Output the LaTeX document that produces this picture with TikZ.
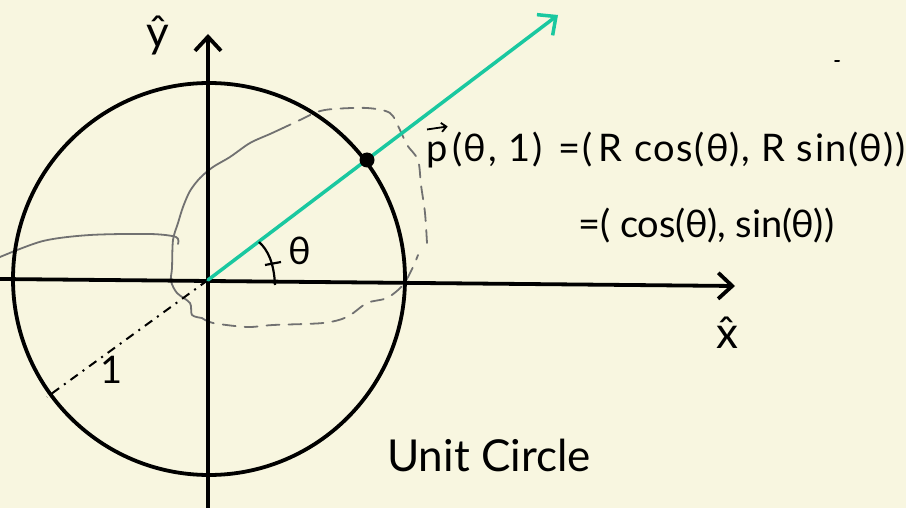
\documentclass[tikz,border=0pt]{standalone}
\usepackage{fontspec}
\setmainfont{Lato}
\usetikzlibrary{arrows.meta,calc}
\definecolor{bgc}{HTML}{F8F6E0}
\definecolor{rayc}{HTML}{1AC8A0}
\definecolor{lassoc}{HTML}{717171}
\begin{document}
\begin{tikzpicture}[x=1pt,y=-1pt,
  axis/.style={line width=3.8pt, black, line cap=round},
  barb/.style={-{Straight Barb[length=14pt,width=26pt]}},
  ray/.style={line width=3.5pt, rayc, line cap=round},
  lasso/.style={line width=1.8pt, lassoc, line cap=round, line join=round},
  lassodash/.style={lasso, dash pattern=on 13pt off 9pt},
  hand/.style={inner sep=0pt, font=\fontsize{38}{44}\selectfont},
  big/.style={inner sep=0pt, font=\fontsize{44}{50}\selectfont}]
\fill[bgc] (0,0) rectangle (906,508);
\useasboundingbox (0,0) rectangle (906,508);

% coordinates
\coordinate (O) at (208,280);
\coordinate (xl) at (0,279);
\coordinate (xr) at (735,286);
\coordinate (yb) at (208,508);
\coordinate (yt) at (208,34);
\coordinate (tip) at (558,15);
\coordinate (one) at (47,397);

% lasso selection outline
\draw[lasso] plot[smooth] coordinates {(0,257) (43,241) (90,235) (150,234) (176,237) (178,244)};
\draw[lasso] plot[smooth] coordinates {(283,128) (270,134) (250,143) (230,157) (213,167) (200,178) (190,191) (183,207) (178,223) (173,240) (172,268) (171,281) (177,293) (190,303) (192,315) (202,318)};
\draw[lassodash] plot[smooth] coordinates {(202,318) (213,323) (247,327) (273,325) (323,323) (347,317) (367,303) (387,298) (403,285) (413,267) (418,255)};
\draw[lassodash] plot[smooth] coordinates {(427,243) (425,213) (421,185) (418,160) (407,145) (400,130) (390,113) (367,108) (333,109) (317,112) (300,120) (283,128)};

% circle and axes
\draw[axis] (209,279) circle[radius=196];
\draw[axis,barb] (xl) -- (xr);
\draw[axis,barb] (yb) -- (yt);

% radius "1"
\draw[line width=2pt, dash pattern=on 9pt off 6pt on 2pt off 6pt] (O) -- (one);
\node[hand] (lab1) at (112,370) {1};

% ray
\draw[ray,barb] (O) -- (tip);
\node[circle, fill=black, inner sep=0pt, minimum size=15pt] (P) at (367,160) {};

% angle
\draw[line width=2.2pt] (275,285) .. controls (274,263) and (268,250) .. (259,242);
\draw[line width=2.2pt] (265,265) -- (281,262);
\node[hand] (th) at (300,251) {θ};

% axis labels
\node[big] (yhat) at (158,36) {ŷ};
\node[big] (xhat) at (727,333) {\^{x}};

% equations
\node[hand, anchor=base west] (pv) at (426,162) {p};
\draw[line width=1.8pt, -{Straight Barb[length=5pt,width=9pt]}] ($(pv.west)+(1,-26)$) -- ($(pv.east)+(0,-29)$);
\node[hand, anchor=base west] (eq1) at ($(pv.base east)+(5,0)$) {\addfontfeatures{LetterSpace=4.5}(θ,\kern12pt 1)\kern16pt=(\kern6pt R cos(θ), R sin(θ))};
\node[hand, anchor=base west] (eq2) at (578,238) {=( cos(θ), sin(θ))};

\node[big, anchor=base] (title) at (489,471) {Unit Circle};

% stray marks
\draw[line width=2pt, line cap=round] (835,61) -- (839,61);
\end{tikzpicture}
\end{document}
